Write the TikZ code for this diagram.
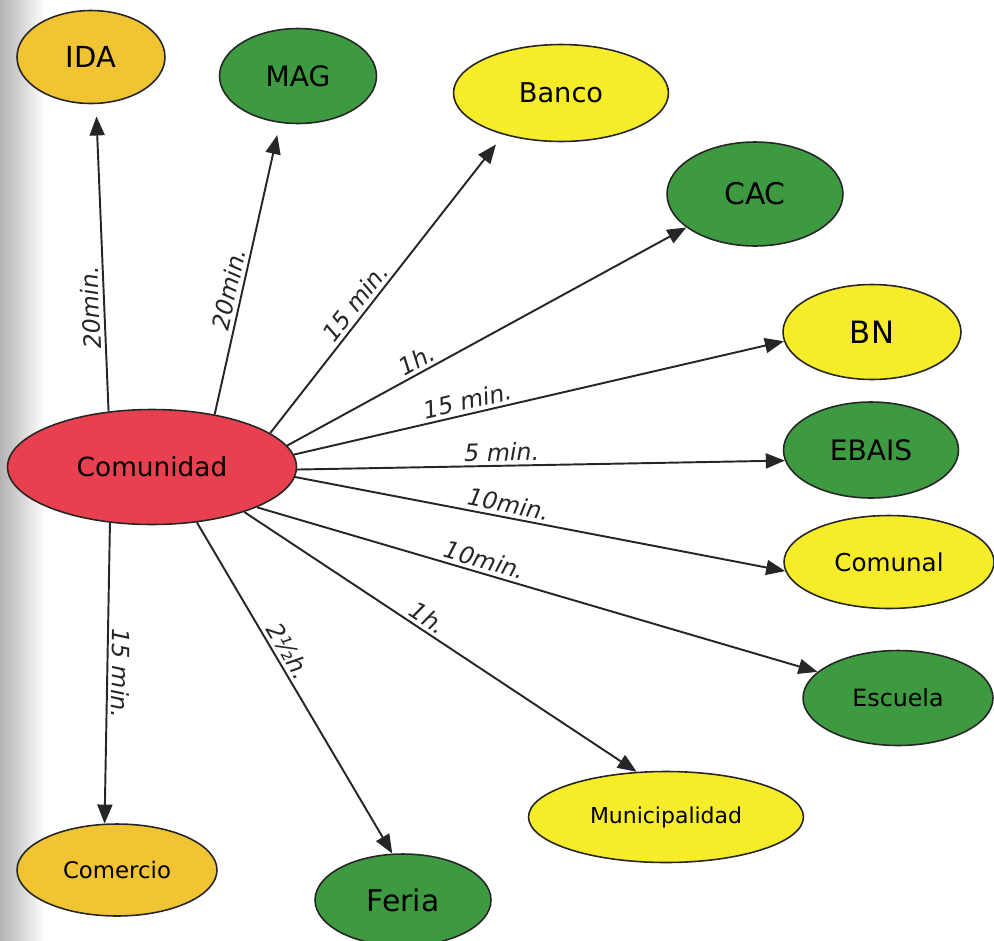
\documentclass[tikz,border=0pt]{standalone}
\usepackage{fontspec}
\setmainfont{DejaVu Sans}
\usepackage{tikz}
\usetikzlibrary{shapes.geometric}
\usetikzlibrary{arrows.meta}

\definecolor{rojo}{HTML}{E8404F}
\definecolor{verde}{HTML}{3E9A40}
\definecolor{amarillo}{HTML}{F6EC2A}
\definecolor{naranja}{HTML}{F1C433}
\definecolor{linea}{HTML}{262626}

\begin{document}
\begin{tikzpicture}[
    x=0.02cm, y=-0.02cm,
    lugar/.style={draw=linea, ellipse, line width=0.9pt, inner sep=0pt},
    arr/.style={-{Triangle[length=3.8mm, width=3mm]}, line width=1.1pt, linea},
    lbl/.style={sloped, above, inner sep=2pt, font=\fontsize{13.5}{16}\selectfont\itshape}
]

% --- FRAME ---
\useasboundingbox (0,0) rectangle (994,940);
\shade[left color=black!30, right color=white] (0,0) rectangle (45,940);

% --- CENTRE ---
\node[lugar, fill=rojo, minimum width=5.78cm, minimum height=2.3cm,
      font=\fontsize{15}{18}\selectfont] (com) at (152,467) {Comunidad};

% --- PLACES ---

% 1. Top row
\node[lugar, fill=naranja, minimum width=2.96cm, minimum height=1.86cm,
      font=\fontsize{16.5}{19}\selectfont] (ida) at (91,57) {IDA};
\node[lugar, fill=verde, minimum width=3.14cm, minimum height=1.9cm,
      font=\fontsize{16}{19}\selectfont] (mag) at (298,76) {MAG};
\node[lugar, fill=amarillo, minimum width=4.3cm, minimum height=1.94cm,
      font=\fontsize{15.5}{18}\selectfont] (banco) at (561,93) {Banco};
\node[lugar, fill=verde, minimum width=3.52cm, minimum height=2.08cm,
      font=\fontsize{17}{20}\selectfont] (cac) at (755,194) {CAC};

% 2. Right column
\node[lugar, fill=amarillo, minimum width=3.56cm, minimum height=1.9cm,
      font=\fontsize{17.5}{20}\selectfont] (bn) at (872,332) {BN};
\node[lugar, fill=verde, minimum width=3.5cm, minimum height=1.92cm,
      font=\fontsize{16}{19}\selectfont] (ebais) at (871,450) {EBAIS};
\node[lugar, fill=amarillo, minimum width=4.2cm, minimum height=1.86cm,
      font=\fontsize{14}{17}\selectfont] (comunal) at (889,562) {Comunal};
\node[lugar, fill=verde, minimum width=3.8cm, minimum height=1.9cm,
      font=\fontsize{13.5}{16}\selectfont] (escuela) at (898,698) {Escuela};

% 3. Bottom row
\node[lugar, fill=amarillo, minimum width=5.5cm, minimum height=1.82cm,
      font=\fontsize{12.5}{15}\selectfont] (muni) at (666,817) {Municipalidad};
\node[lugar, fill=verde, minimum width=3.52cm, minimum height=1.84cm,
      font=\fontsize{17}{20}\selectfont] (feria) at (403,900) {Feria};
\node[lugar, fill=naranja, minimum width=4cm, minimum height=1.84cm,
      font=\fontsize{13}{16}\selectfont] (comercio) at (117,870) {Comercio};

% --- CONNECTIONS ---

\draw[arr, shorten >=7pt] (com.128) -- (ida.-84) node[lbl, pos=0.34, allow upside down] {20min.};
\draw[arr, shorten >=7pt] (com.40) -- (mag.-111) node[lbl, pos=0.42] {20min.};
\draw[arr, shorten >=7pt] (com.16) -- (banco.-144) node[lbl, pos=0.41] {15 min.};
\draw[arr] (com.9) -- (cac.-154) node[lbl, pos=0.34] {1h.};
\draw[arr] (com.5) -- (bn.-174) node[lbl, pos=0.36] {15 min.};
\draw[arr] (com.-1) -- (ebais.-173) node[lbl, pos=0.42] {5 min.};
\draw[arr] (com.-4) -- (comunal.-175) node[lbl, pos=0.43] {10min.};
\draw[arr] (com.-21) -- (escuela.162) node[lbl, pos=0.40] {10min.};
\draw[arr] (com.-26) -- (muni.123) node[lbl, pos=0.45] {1h.};
\draw[arr] (com.-51) -- (feria.103) node[lbl, pos=0.41] {2½h.};
\draw[arr] (com.-127) -- (comercio.105) node[lbl, pos=0.50, allow upside down] {15 min.};

\end{tikzpicture}
\end{document}
